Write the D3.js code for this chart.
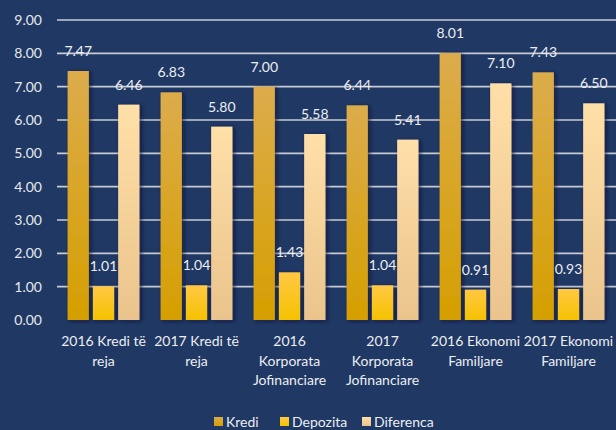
<!DOCTYPE html>
<html>
<head>
<meta charset="utf-8">
<script src="https://cdn.jsdelivr.net/npm/d3@7"></script>
<style>
  html, body { margin: 0; padding: 0; background: #203864; overflow: hidden; }
  svg { display: block; font-family: Lato, "Open Sans", sans-serif; }
</style>
</head>
<body>
<div id="chart"></div>
<script>
// Chart data
const categories = [
    '2016 Kredi të\nreja',
    '2017 Kredi të\nreja',
    '2016\nKorporata\nJofinanciare',
    '2017\nKorporata\nJofinanciare',
    '2016 Ekonomi\nFamiljare',
    '2017 Ekonomi\nFamiljare'
];
const seriesNames = ['Kredi', 'Depozita', 'Diferenca'];
const kredi = [7.47, 6.83, 7.00, 6.44, 8.01, 7.43];
const depozita = [1.01, 1.04, 1.43, 1.04, 0.91, 0.93];
const diferenca = [6.46, 5.80, 5.58, 5.41, 7.10, 6.50];
const yTicks = [0, 1, 2, 3, 4, 5, 6, 7, 8, 9];

const seriesValues = [kredi, depozita, diferenca];
const gradients = [
    ['#dcac4c', '#d59f00'],
    ['#ffc844', '#f6c200'],
    ['#ffdfa8', '#eac48c']
];

const width = 616;
const height = 430;
const margin = { top: 20, right: 1, bottom: 110, left: 57 };

const svg = d3.select('#chart')
    .append('svg')
    .attr('width', width)
    .attr('height', height);

const defs = svg.append('defs');

// Vertical gradients for each series
gradients.forEach((g, i) => {
    const grad = defs.append('linearGradient')
        .attr('id', 'grad' + i)
        .attr('x1', 0).attr('y1', 0)
        .attr('x2', 0).attr('y2', 1);
    grad.append('stop').attr('offset', '0%').attr('stop-color', g[0]);
    grad.append('stop').attr('offset', '100%').attr('stop-color', g[1]);
});

// Soft shadow behind bars
const shadow = defs.append('filter')
    .attr('id', 'shadow')
    .attr('x', '-20%').attr('y', '-20%')
    .attr('width', '160%').attr('height', '140%');
shadow.append('feDropShadow')
    .attr('dx', 2).attr('dy', 1)
    .attr('stdDeviation', 2)
    .attr('flood-color', '#0a1630')
    .attr('flood-opacity', 0.7);

const x0 = d3.scaleBand()
    .domain(categories)
    .range([margin.left, width - margin.right])
    .paddingInner(0)
    .paddingOuter(0);

const x1 = d3.scaleBand()
    .domain(seriesNames)
    .range([0, x0.bandwidth()])
    .paddingInner(0.16)
    .paddingOuter(0.42);

const y = d3.scaleLinear()
    .domain([0, 9])
    .range([height - margin.bottom, margin.top]);

// Gridlines
svg.append('g')
    .selectAll('line')
    .data(yTicks.filter(t => t > 0))
    .enter()
    .append('line')
    .attr('x1', margin.left)
    .attr('x2', width)
    .attr('y1', d => y(d))
    .attr('y2', d => y(d))
    .attr('stroke', '#c8cbd3')
    .attr('stroke-width', 1.6);

// Y tick labels
svg.append('g')
    .selectAll('text')
    .data(yTicks)
    .enter()
    .append('text')
    .attr('x', 42)
    .attr('y', d => y(d))
    .attr('dy', '0.36em')
    .attr('text-anchor', 'end')
    .attr('fill', '#e6e8ee')
    .style('font-size', '14px')
    .text(d => d.toFixed(2));

// Bars
const groups = svg.append('g')
    .selectAll('g')
    .data(categories)
    .enter()
    .append('g')
    .attr('transform', d => `translate(${x0(d)},0)`);

groups.selectAll('rect')
    .data((d, i) => seriesNames.map((s, k) => ({ s, k, v: seriesValues[k][i] })))
    .enter()
    .append('rect')
    .attr('x', d => x1(d.s))
    .attr('width', x1.bandwidth())
    .attr('y', d => y(d.v))
    .attr('height', d => y(0) - y(d.v))
    .attr('fill', d => `url(#grad${d.k})`)
    .attr('filter', 'url(#shadow)');

// Value labels
groups.selectAll('text')
    .data((d, i) => seriesNames.map((s, k) => ({ s, k, v: seriesValues[k][i] })))
    .enter()
    .append('text')
    .attr('x', d => x1(d.s) + x1.bandwidth() / 2)
    .attr('y', d => y(d.v) - 15)
    .attr('text-anchor', 'middle')
    .attr('fill', '#eceef2')
    .style('font-size', '14px')
    .text(d => d.v.toFixed(2));

// Zero axis line
svg.append('line')
    .attr('x1', margin.left)
    .attr('x2', width)
    .attr('y1', y(0) + 1)
    .attr('y2', y(0) + 1)
    .attr('stroke', '#d4d6dc')
    .attr('stroke-width', 3)
    .attr('filter', 'url(#shadow)');

// Category labels
const xLabels = svg.append('g')
    .selectAll('text')
    .data(categories)
    .enter()
    .append('text')
    .attr('text-anchor', 'middle')
    .attr('fill', '#eceef2')
    .style('font-size', '14px')
    .attr('transform', d => `translate(${x0(d) + x0.bandwidth() / 2},346)`);

xLabels.selectAll('tspan')
    .data(d => d.split('\n'))
    .enter()
    .append('tspan')
    .attr('x', 0)
    .attr('y', (d, i) => i * 19.5)
    .text(d => d);

// Legend
const legendX = [214, 280, 362];
const legend = svg.append('g')
    .selectAll('g')
    .data(seriesNames)
    .enter()
    .append('g')
    .attr('transform', (d, i) => `translate(${legendX[i]},417)`);

legend.append('rect')
    .attr('width', 9)
    .attr('height', 9)
    .attr('fill', (d, i) => `url(#grad${i})`);

legend.append('text')
    .attr('x', 12)
    .attr('y', 9.5)
    .attr('fill', '#eceef2')
    .style('font-size', '14px')
    .text(d => d);
</script>
</body>
</html>
